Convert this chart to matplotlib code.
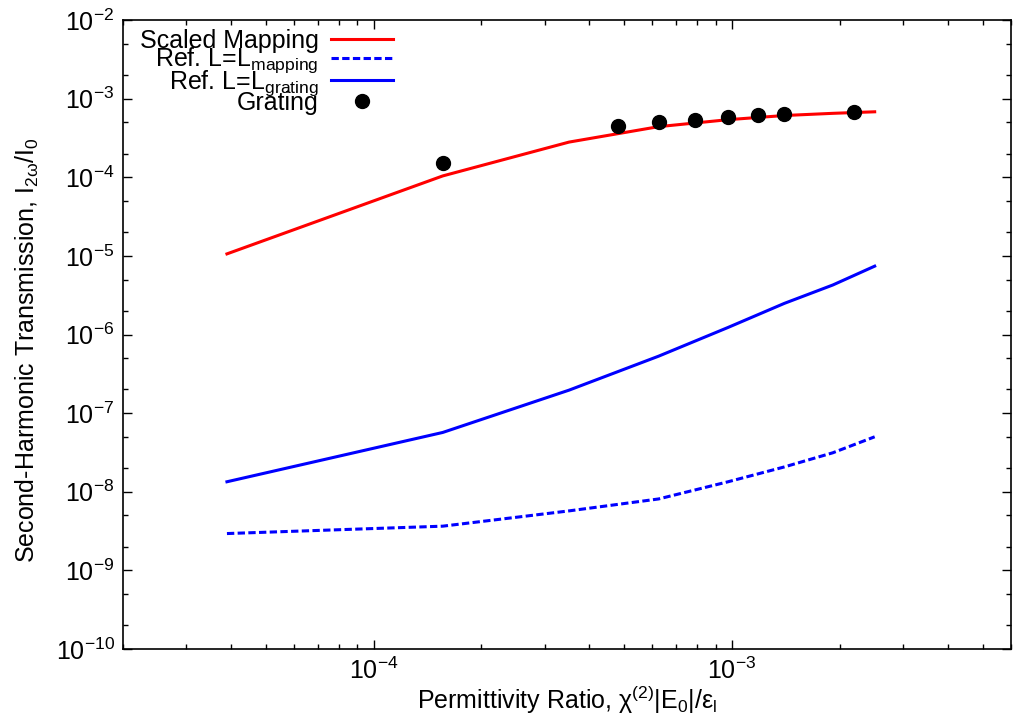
import matplotlib
matplotlib.use('Agg')
import matplotlib.pyplot as plt
from matplotlib import ticker

# model curves (shared x grid)
x_model = [3.9e-5, 1.56e-4, 3.51e-4, 6.24e-4, 9.75e-4, 1.40e-3, 1.91e-3, 2.50e-3]
scaled_mapping = [1.06e-5, 1.04e-4, 2.8e-4, 4.4e-4, 5.4e-4, 6.1e-4, 6.5e-4, 6.8e-4]
ref_mapping = [2.94e-9, 3.65e-9, 5.71e-9, 8.1e-9, 1.34e-8, 2.07e-8, 3.13e-8, 5.0e-8]
ref_grating = [1.34e-8, 5.68e-8, 1.96e-7, 5.3e-7, 1.23e-6, 2.49e-6, 4.26e-6, 7.4e-6]

# grating simulation points
grating_x = [1.56e-4, 4.8e-4, 6.24e-4, 7.9e-4, 9.75e-4, 1.18e-3, 1.40e-3, 2.19e-3]
grating_y = [1.53e-4, 4.48e-4, 5.04e-4, 5.39e-4, 5.78e-4, 6.18e-4, 6.37e-4, 6.8e-4]

FS = 18

plt.rcParams['font.family'] = ['Liberation Sans', 'DejaVu Sans']
plt.rcParams['mathtext.fontset'] = 'custom'
plt.rcParams['mathtext.rm'] = 'Liberation Sans'
plt.rcParams['mathtext.it'] = 'Liberation Sans:italic'
plt.rcParams['mathtext.default'] = 'regular'
plt.rcParams['axes.unicode_minus'] = False
plt.rcParams['font.size'] = FS

fig = plt.figure(figsize=(10.13, 7.22), dpi=100)
ax = fig.add_axes([0.1214, 0.1011, 0.8766, 0.8712])

lw = 2.2
ax.plot(x_model, scaled_mapping, '-', color='#ff0000', lw=lw, label='Scaled Mapping')
ax.plot(x_model, ref_mapping, color='#0000ff', lw=lw, dashes=(2.4, 1.1),
        label='Ref. L=L$_{mapping}$')
ax.plot(x_model, ref_grating, '-', color='#0000ff', lw=lw, label='Ref. L=L$_{grating}$')
ax.plot(grating_x, grating_y, 'o', color='black', ms=10, label='Grating')

ax.set_xscale('log')
ax.set_yscale('log')
ax.set_xlim(2e-5, 6e-3)
ax.set_ylim(1e-10, 1e-2)

ax.xaxis.set_major_locator(ticker.LogLocator(base=10, numticks=20))
ax.xaxis.set_minor_locator(ticker.LogLocator(base=10, subs=range(2, 10), numticks=20))
ax.yaxis.set_major_locator(ticker.LogLocator(base=10, numticks=20))
ax.yaxis.set_minor_locator(ticker.LogLocator(base=10, subs=(2, 5), numticks=20))
ax.xaxis.set_minor_formatter(ticker.NullFormatter())
ax.yaxis.set_minor_formatter(ticker.NullFormatter())

ax.tick_params(which='both', direction='in', top=True, right=True, width=1.0)
ax.tick_params(which='major', length=6.5, pad=6, labelsize=FS)
ax.tick_params(which='minor', length=3.3)
for s in ax.spines.values():
    s.set_linewidth(1.2)

ax.set_xlabel('Permittivity Ratio, χ$^{(2)}$|E$_0$|/ε$_l$', fontsize=FS, labelpad=0)
ax.set_ylabel('Second-Harmonic Transmission, I$_{2ω}$/I$_0$', fontsize=FS)
ax.yaxis.set_label_coords(-0.092, 0.475)

leg = ax.legend(loc='upper right', bbox_to_anchor=(0.313, 0.998), frameon=False,
                markerfirst=False, numpoints=1, handlelength=2.5,
                handletextpad=0.5, labelspacing=-0.28, borderpad=0.0,
                borderaxespad=0.3, fontsize=FS)

fig.savefig('out.png', dpi=100)
